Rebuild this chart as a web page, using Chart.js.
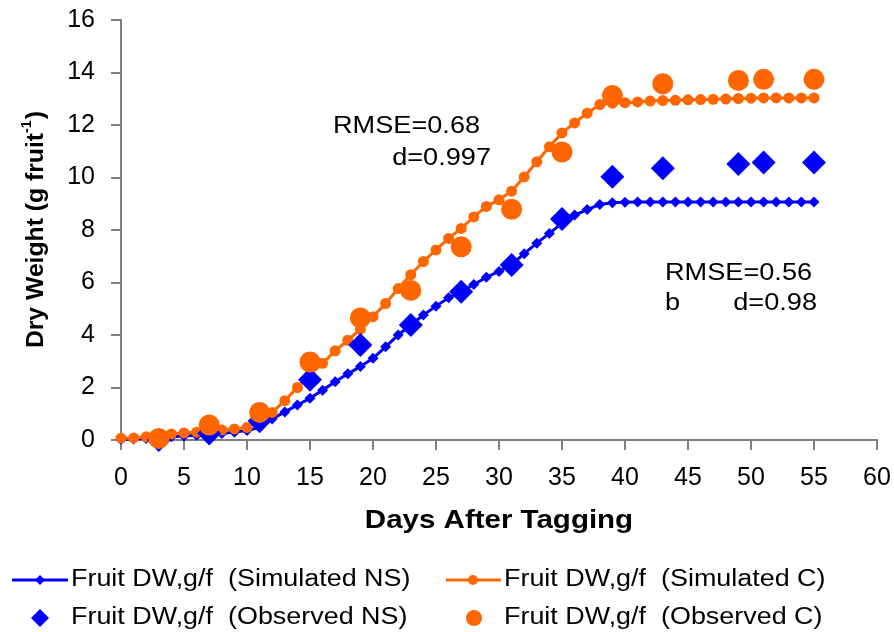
<!DOCTYPE html>
<html>
<head>
<meta charset="utf-8">
<script src="https://cdn.jsdelivr.net/npm/chart.js@4.4.0/dist/chart.umd.min.js"></script>
<style>
  html, body { margin: 0; padding: 0; background: #fff; }
  #grafico { display: block; }
</style>
</head>
<body>
<canvas id="grafico" width="894" height="632"></canvas>
<script>
// === DADOS ===
// dias da simulação (um ponto por dia)
const dias = [
  0, 1, 2, 3, 4, 5, 6, 7, 8, 9,
  10, 11, 12, 13, 14, 15, 16, 17, 18, 19,
  20, 21, 22, 23, 24, 25, 26, 27, 28, 29,
  30, 31, 32, 33, 34, 35, 36, 37, 38, 39,
  40, 41, 42, 43, 44, 45, 46, 47, 48, 49,
  50, 51, 52, 53, 54, 55
];
// Fruit DW, g/f (Simulated NS)
const simuladoNS = [
  0.02, 0.04, 0.06, 0.09, 0.12, 0.15, 0.18, 0.21, 0.25, 0.30,
  0.36, 0.48, 0.80, 1.07, 1.33, 1.59, 1.90, 2.22, 2.52, 2.80,
  3.11, 3.55, 4.00, 4.38, 4.76, 5.10, 5.42, 5.66, 5.92, 6.20,
  6.42, 6.68, 7.10, 7.50, 7.87, 8.25, 8.57, 8.78, 8.97, 9.04,
  9.06, 9.07, 9.07, 9.07, 9.07, 9.07, 9.07, 9.07, 9.07, 9.07,
  9.07, 9.07, 9.07, 9.07, 9.07, 9.07
];
// Fruit DW, g/f (Simulated C)
const simuladoC = [
  0.07, 0.08, 0.12, 0.17, 0.23, 0.27, 0.30, 0.34, 0.38, 0.42,
  0.48, 0.70, 1.05, 1.50, 2.00, 2.50, 2.92, 3.40, 3.80, 4.22,
  4.70, 5.20, 5.77, 6.30, 6.80, 7.24, 7.68, 8.06, 8.50, 8.90,
  9.15, 9.48, 10.02, 10.60, 11.17, 11.70, 12.08, 12.45, 12.78, 12.83,
  12.85, 12.88, 12.91, 12.93, 12.94, 12.96, 12.97, 12.98, 12.99, 13.01,
  13.02, 13.03, 13.03, 13.03, 13.03, 13.03
];
// dias das amostragens observadas
const diasObs = [3, 7, 11, 15, 19, 23, 27, 31, 35, 39, 43, 49, 51, 55];
const observadoNS = [0.0, 0.25, 0.72, 2.30, 3.62, 4.38, 5.65, 6.67, 8.42, 10.03, 10.35, 10.51, 10.57, 10.57];
const observadoC = [0.06, 0.57, 1.05, 2.97, 4.65, 5.70, 7.36, 8.79, 10.97, 13.12, 13.57, 13.70, 13.74, 13.74];

const rotulos = [
  "Fruit DW,g/f  (Simulated NS)",
  "Fruit DW,g/f  (Simulated C)",
  "Fruit DW,g/f  (Observed NS)",
  "Fruit DW,g/f  (Observed C)"
];

const AZUL = "#0000ff";
const LARANJA = "#ff6600";
const FONTE = '"Liberation Sans", Arial, sans-serif';

const pares = (xs, ys) => xs.map((x, i) => ({ x: x, y: ys[i] }));

// texto com leve esticamento horizontal (o original é mais largo que Arial)
function texto(ctx, s, x, y, tam, negrito, sx, alinh) {
  ctx.save();
  ctx.font = (negrito ? "bold " : "") + tam + "px " + FONTE;
  ctx.textBaseline = "middle";
  ctx.textAlign = "left";
  ctx.fillStyle = "#000";
  const w = ctx.measureText(s).width * sx;
  let x0 = x;
  if (alinh === "right") x0 = x - w;
  if (alinh === "center") x0 = x - w / 2;
  ctx.translate(x0, y);
  ctx.scale(sx, 1);
  ctx.fillText(s, 0, 0);
  ctx.restore();
  return w;
}

function marcador(ctx, estilo, raio, cor, x, y) {
  ctx.save();
  ctx.fillStyle = cor;
  ctx.strokeStyle = cor;
  Chart.helpers.drawPoint(ctx, { pointStyle: estilo, radius: raio, rotation: 0, borderWidth: 0 }, x, y);
  ctx.restore();
}

// === PLUGIN: títulos, anotações e legenda ===
const textos = {
  id: "textos",
  afterDraw(chart) {
    const ctx = chart.ctx;

    // anotações
    texto(ctx, "RMSE=0.68", 333, 127, 23, false, 1.18, "left");
    texto(ctx, "d=0.997", 491, 159, 23, false, 1.18, "right");
    texto(ctx, "RMSE=0.56", 665, 274, 23, false, 1.18, "left");
    texto(ctx, "b", 665, 304, 23, false, 1.18, "left");
    texto(ctx, "d=0.98", 817, 304, 23, false, 1.18, "right");

    // título do eixo x
    const a = chart.chartArea;
    texto(ctx, "Days After Tagging", (a.left + a.right) / 2, 521, 25, true, 1.18, "center");

    // título do eixo y (com expoente -1)
    ctx.save();
    ctx.translate(36, (a.top + a.bottom) / 2);
    ctx.rotate(-Math.PI / 2);
    ctx.fillStyle = "#000";
    ctx.textBaseline = "middle";
    const sxY = 1.03;
    ctx.font = "bold 24px " + FONTE;
    const w1 = ctx.measureText("Dry Weight (g fruit").width * sxY;
    const w3 = ctx.measureText(")").width * sxY;
    ctx.font = "bold 14px " + FONTE;
    const w2 = ctx.measureText("-1").width * sxY;
    let x0 = -(w1 + w2 + w3) / 2;
    texto(ctx, "Dry Weight (g fruit", x0, 0, 24, true, sxY, "left");
    texto(ctx, "-1", x0 + w1, -9, 14, true, sxY, "left");
    texto(ctx, ")", x0 + w1 + w2 + 1, 0, 24, true, sxY, "left");
    ctx.restore();

    // legenda
    ctx.save();
    ctx.lineWidth = 3;
    ctx.strokeStyle = AZUL;
    ctx.beginPath(); ctx.moveTo(12, 580); ctx.lineTo(68, 580); ctx.stroke();
    ctx.strokeStyle = LARANJA;
    ctx.beginPath(); ctx.moveTo(446, 580); ctx.lineTo(501, 580); ctx.stroke();
    ctx.restore();
    marcador(ctx, "rectRot", 5, AZUL, 40, 580);
    marcador(ctx, "circle", 5, LARANJA, 473, 580);
    marcador(ctx, "rectRot", 9, AZUL, 40, 618);
    marcador(ctx, "circle", 8, LARANJA, 474, 618);
    texto(ctx, rotulos[0], 71, 580, 23, false, 1.17, "left");
    texto(ctx, rotulos[1], 504, 580, 23, false, 1.17, "left");
    texto(ctx, rotulos[2], 71, 618, 23, false, 1.17, "left");
    texto(ctx, rotulos[3], 504, 618, 23, false, 1.17, "left");
  }
};

const eixo = {
  border: { display: true, color: "#808080", width: 2 },
  grid: { drawOnChartArea: false, drawTicks: true, color: "#808080", lineWidth: 2, tickLength: 10 },
};

const ctx = document.getElementById("grafico").getContext("2d");
new Chart(ctx, {
  type: "scatter",
  data: {
    datasets: [
      {
        label: rotulos[0],
        data: pares(dias, simuladoNS),
        showLine: true,
        borderColor: AZUL,
        backgroundColor: AZUL,
        borderWidth: 3,
        pointStyle: "rectRot",
        pointRadius: 5.5,
        pointBorderWidth: 0,
        clip: false,
        order: 4
      },
      {
        label: rotulos[1],
        data: pares(dias, simuladoC),
        showLine: true,
        borderColor: LARANJA,
        backgroundColor: LARANJA,
        borderWidth: 3,
        pointStyle: "circle",
        pointRadius: 5.5,
        pointBorderWidth: 0,
        clip: false,
        order: 3
      },
      {
        label: rotulos[2],
        data: pares(diasObs, observadoNS),
        showLine: false,
        backgroundColor: AZUL,
        borderColor: AZUL,
        pointStyle: "rectRot",
        pointRadius: 12,
        pointBorderWidth: 0,
        clip: false,
        order: 2
      },
      {
        label: rotulos[3],
        data: pares(diasObs, observadoC),
        showLine: false,
        backgroundColor: LARANJA,
        borderColor: LARANJA,
        pointStyle: "circle",
        pointRadius: 10.5,
        pointBorderWidth: 0,
        clip: false,
        order: 1
      }
    ]
  },
  options: {
    responsive: false,
    animation: false,
    layout: { padding: { top: 20, right: 17, left: 0, bottom: 0 } },
    plugins: {
      legend: { display: false },
      tooltip: { enabled: false }
    },
    scales: {
      x: {
        type: "linear",
        min: 0,
        max: 60,
        ...eixo,
        ticks: { stepSize: 5, color: "#000", padding: 13, font: { family: FONTE, size: 25 } },
        afterFit: (s) => { s.height = 192; s.paddingLeft = 0; s.paddingRight = 0; }
      },
      y: {
        type: "linear",
        min: 0,
        max: 16,
        ...eixo,
        ticks: { stepSize: 2, color: "#000", padding: 16, font: { family: FONTE, size: 25 } },
        afterFit: (s) => { s.width = 121; s.paddingTop = 0; s.paddingBottom = 0; }
      }
    }
  },
  plugins: [textos]
});
</script>
</body>
</html>
